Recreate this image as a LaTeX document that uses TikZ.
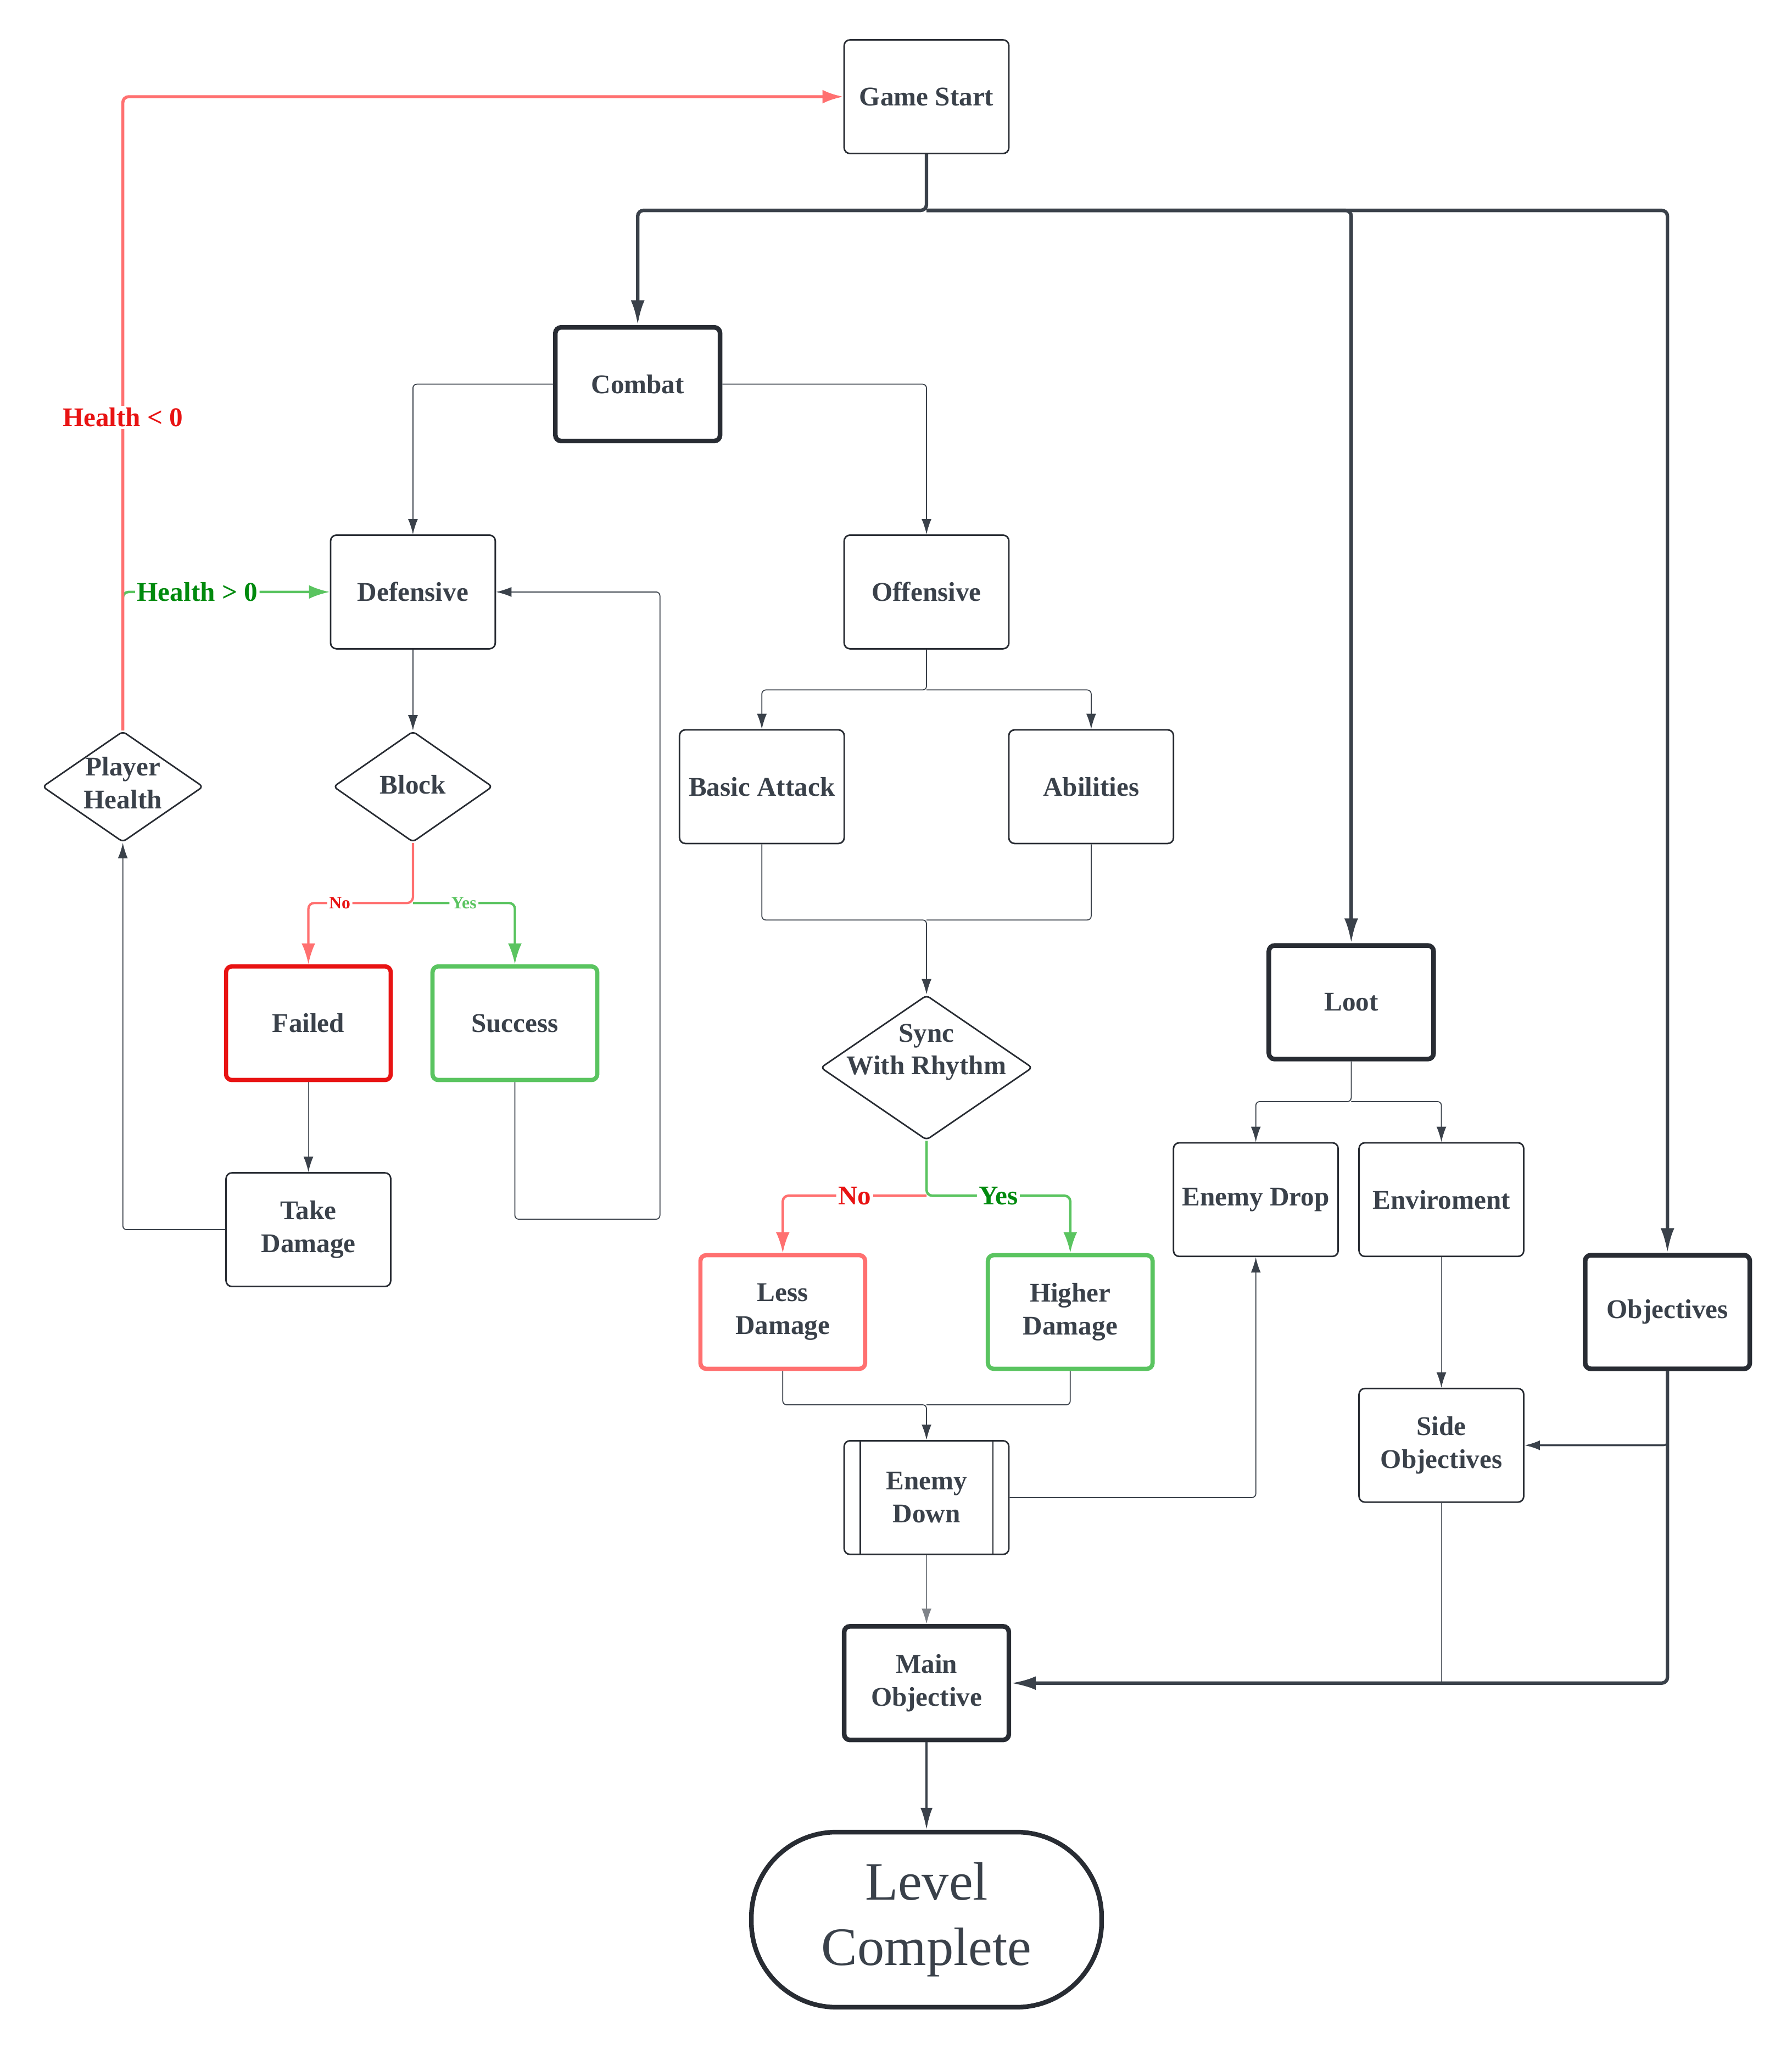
\documentclass[tikz,border=0pt]{standalone}
\usepackage{fontspec}
\setmainfont{Liberation Serif}
\usepackage{xcolor}
\usetikzlibrary{arrows.meta,shapes.geometric}
\definecolor{inkgray}{HTML}{3A414A}
\definecolor{edgegray}{HTML}{282C33}
\definecolor{softred}{HTML}{FF7070}
\definecolor{hardred}{HTML}{E81313}
\definecolor{softgreen}{HTML}{5AC460}
\definecolor{deepgreen}{HTML}{008A0E}

\tikzset{
  boxtext/.style={font=\fontsize{14}{17}\selectfont\bfseries, text=inkgray, align=center},
  stepbox/.style={boxtext, draw=edgegray, line width=0.8pt, rounded corners=3pt, fill=white,
    minimum width=3cm, minimum height=2.07cm, inner sep=1pt},
  keybox/.style={stepbox, line width=2.4pt},
  failbox/.style={stepbox, draw=hardred, line width=2.2pt},
  lessbox/.style={stepbox, draw=softred, line width=2.2pt},
  winbox/.style={stepbox, draw=softgreen, line width=2.2pt},
  process/.style={stepbox, path picture={
    \draw[edgegray, line width=0.8pt]
      ([xshift=0.29cm]path picture bounding box.north west) -- ([xshift=0.29cm]path picture bounding box.south west)
      ([xshift=-0.29cm]path picture bounding box.north east) -- ([xshift=-0.29cm]path picture bounding box.south east);}},
  decision/.style={diamond, draw=edgegray, line width=0.8pt, rounded corners=2pt, fill=white, inner sep=0pt},
  terminal/.style={draw=edgegray, line width=2.4pt, rounded corners=1.55cm, fill=white,
    minimum width=6.38cm, minimum height=3.19cm, align=center,
    font=\fontsize{28}{34}\selectfont, text=inkgray},
  joinline/.style={draw=inkgray, line width=0.5pt, rounded corners=2pt},
  link/.style={joinline, -{Latex[length=0.28cm,width=0.18cm]}},
  softlink/.style={link, draw=inkgray!65},
  midlink/.style={link, line width=0.9pt},
  boldlink/.style={draw=inkgray, line width=1.8pt, rounded corners=3pt, -{Latex[length=0.45cm,width=0.25cm]}},
  nolink/.style={draw=softred, line width=1.3pt, rounded corners=3pt, -{Latex[length=0.38cm,width=0.25cm]}},
  yeslink/.style={nolink, draw=softgreen},
  cond/.style={fill=white, inner sep=1pt, font=\fontsize{14}{16}\selectfont\bfseries},
  smallcond/.style={cond, font=\fontsize{9}{10}\selectfont\bfseries}
}

\begin{document}
\begin{tikzpicture}[x=0.0238cm, y=-0.0238cm]
  \useasboundingbox (0,0) rectangle (1371,1568);

  \node[stepbox] (gs) at (709,74) {Game Start};
  \node[keybox] (combat) at (488,294) {Combat};
  \node[stepbox] (def) at (316,453) {Defensive};
  \node[stepbox] (off) at (709,453) {Offensive};
  \node[stepbox] (basic) at (583,602) {Basic Attack};
  \node[stepbox] (abil) at (835,602) {Abilities};
  \node[decision, minimum width=2.93cm, minimum height=2.02cm,
        label={[boxtext, yshift=2pt]center:Player\\Health}] (ph) at (94,602) {};
  \node[decision, minimum width=2.9cm, minimum height=2.02cm,
        label={[boxtext, yshift=1pt]center:Block}] (block) at (316,602) {};
  \node[failbox] (failed) at (236,783) {Failed};
  \node[winbox] (succ) at (394,783) {Success};
  \node[stepbox] (td) at (236,941) {Take\\Damage};
  \node[decision, minimum width=3.86cm, minimum height=2.64cm,
        label={[boxtext, yshift=8pt]center:Sync\\With Rhythm}] (sync) at (709,817) {};
  \node[lessbox] (less) at (599,1004) {Less\\Damage};
  \node[winbox] (higher) at (819,1004) {Higher\\Damage};
  \node[process] (edown) at (709,1146) {Enemy\\Down};
  \node[keybox] (mainobj) at (709,1288) {Main\\Objective};
  \node[terminal] (level) at (709,1469) {Level\\Complete};
  \node[keybox] (loot) at (1034,767) {Loot};
  \node[stepbox] (drop) at (961,918) {Enemy Drop};
  \node[stepbox] (env) at (1103,918) {Enviroment};
  \node[stepbox] (side) at (1103,1106) {Side\\Objectives};
  \node[keybox] (obj) at (1276,1004) {Objectives};

  \coordinate (split) at (709,161);
  \coordinate (blocksplit) at (316,691);
  \coordinate (loopR) at (505,933);
  \coordinate (offsplit) at (709,528);
  \coordinate (atkjoin) at (709,704);
  \coordinate (syncsplit) at (709,915);
  \coordinate (dmgjoin) at (709,1075);
  \coordinate (lootsplit) at (1034,843);

  \draw[boldlink] (gs.south) -- (split) -| (combat.north);
  \draw[boldlink] (split) -| (loot.north);
  \draw[boldlink] (split) -| (obj.north);

  \draw[link] (combat.west) -| (def.north);
  \draw[link] (combat.east) -| (off.north);
  \draw[link] (def) -- (block);

  \draw[yeslink, line width=1.2pt] (blocksplit) -| node[smallcond, text=softgreen, pos=0.25] {Yes} (succ.north);
  \draw[nolink, line width=1.2pt] (block.south) -- (blocksplit) -| node[smallcond, text=hardred, pos=0.35] {No} (failed.north);
  \draw[link] (failed) -- (td);
  \draw[link] (td.west) -| (ph.south);
  \draw[yeslink] (ph.north) |- node[cond, text=deepgreen, pos=0.68] {Health > 0} (def.west);
  \draw[nolink, line width=1.6pt] (ph.north) |- node[cond, text=hardred, pos=0.247] {Health < 0} (gs.west);
  \draw[link] (succ.south) |- (loopR) |- (def.east);

  \draw[link] (off.south) -- (offsplit) -| (basic.north);
  \draw[link] (offsplit) -| (abil.north);
  \draw[link] (basic.south) |- (atkjoin) -- (sync.north);
  \draw[joinline] (abil.south) |- (atkjoin);

  \draw[nolink] (syncsplit) -| node[cond, text=hardred, pos=0.25] {No} (less.north);
  \draw[yeslink] (sync.south) -- (syncsplit) -| node[cond, text=deepgreen, pos=0.25] {Yes} (higher.north);
  \draw[link] (less.south) |- (dmgjoin) -- (edown.north);
  \draw[joinline] (higher.south) |- (dmgjoin);
  \draw[link] (edown.east) -| (drop.south);
  \draw[softlink] (edown) -- (mainobj);
  \draw[midlink, line width=1.3pt, -{Latex[length=0.4cm,width=0.22cm]}] (mainobj) -- (level);

  \draw[link] (loot.south) -- (lootsplit) -| (drop.north);
  \draw[link] (lootsplit) -| (env.north);
  \draw[link] (env) -- (side);
  \draw[midlink] (obj.south) |- (side.east);
  \draw[joinline] (side.south) -- (side.south |- mainobj.east);
  \draw[boldlink] (obj.south) |- (mainobj.east);
\end{tikzpicture}
\end{document}
